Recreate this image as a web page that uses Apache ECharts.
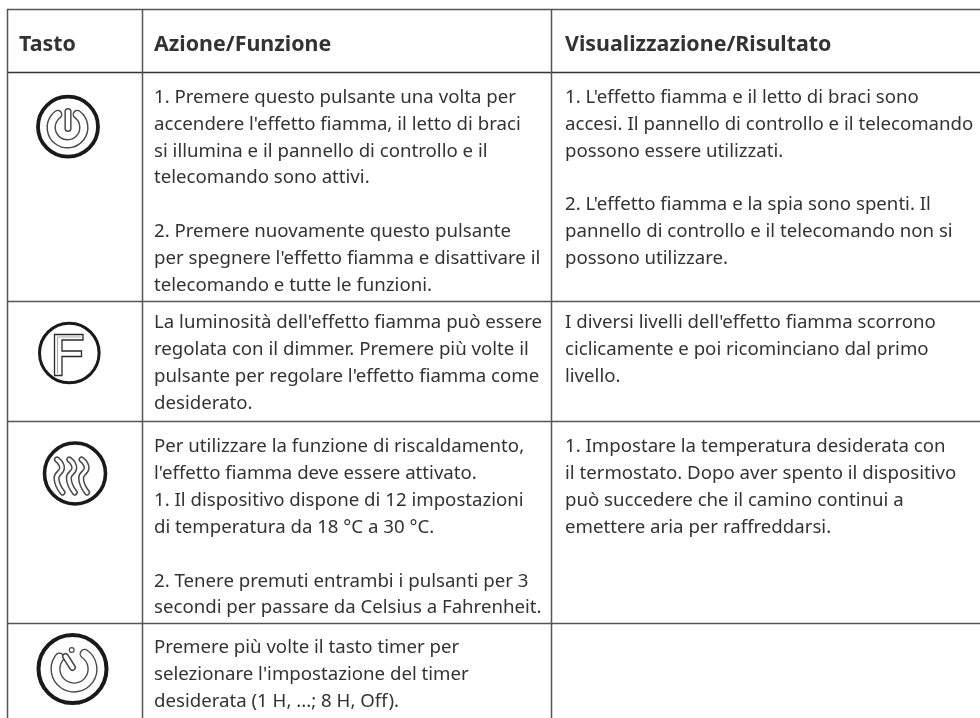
<!DOCTYPE html>
<html>
<head>
<meta charset="utf-8">
<title>Tasti</title>
<style>
html, body { margin: 0; padding: 0; background: #fff; }
#chart-panel { width: 980px; height: 718px; }
</style>
<script src="https://cdn.jsdelivr.net/npm/echarts@6/dist/echarts.min.js"></script>
</head>
<body>
<div id="chart-panel"></div>
<script>
// tabella disegnata con i graphic di echarts
var headers = ['Tasto', 'Azione/Funzione', 'Visualizzazione/Risultato'];

var azioni = [
    ['1. Premere questo pulsante una volta per', "accendere l'effetto fiamma, il letto di braci", 'si illumina e il pannello di controllo e il', 'telecomando sono attivi.', '', '2. Premere nuovamente questo pulsante', "per spegnere l'effetto fiamma e disattivare il", 'telecomando e tutte le funzioni.'],
    ["La luminosità dell'effetto fiamma può essere", 'regolata con il dimmer. Premere più volte il', "pulsante per regolare l'effetto fiamma come", 'desiderato.'],
    ['Per utilizzare la funzione di riscaldamento,', "l'effetto fiamma deve essere attivato.", '1. Il dispositivo dispone di 12 impostazioni', 'di temperatura da 18 °C a 30 °C.', '', '2. Tenere premuti entrambi i pulsanti per 3', 'secondi per passare da Celsius a Fahrenheit.'],
    ['Premere più volte il tasto timer per', "selezionare l'impostazione del timer", 'desiderata (1 H, ...; 8 H, Off).']
];

var risultati = [
    ["1. L'effetto fiamma e il letto di braci sono", 'accesi. Il pannello di controllo e il telecomando', 'possono essere utilizzati.', '', "2. L'effetto fiamma e la spia sono spenti. Il", 'pannello di controllo e il telecomando non si', 'possono utilizzare.'],
    ["I diversi livelli dell'effetto fiamma scorrono", 'ciclicamente e poi ricominciano dal primo', 'livello.'],
    ['1. Impostare la temperatura desiderata con', 'il termostato. Dopo aver spento il dispositivo', 'può succedere che il camino continui a', 'emettere aria per raffreddarsi.'],
    []
];

var firstLineY = [97.5, 323, 447, 648];
var lineStep = 26.85;
var colX = [8, 143, 552];
var rowY = [9, 72, 301, 421, 623];
var textX = [19, 154, 565];
var textColor = '#333';
var ruleColor = '#555';
var family = '"Noto Sans", "Open Sans", sans-serif';

var elements = [];

function addLine(x1, y1, x2, y2, color, width) {
    elements.push({
        type: 'line',
        shape: { x1: x1, y1: y1, x2: x2, y2: y2 },
        style: { stroke: color, lineWidth: width }
    });
}

function addText(x, y, text, font) {
    elements.push({
        type: 'text',
        x: x,
        y: y,
        style: { text: text, font: font, fill: textColor, verticalAlign: 'middle' }
    });
}

// linee della griglia
rowY.forEach(function (y, i) {
    addLine(7, y + 0.5, 980, y + 0.5, i === 1 ? '#333' : ruleColor, 1.5);
});
colX.forEach(function (x) {
    addLine(x - 0.5, 9, x - 0.5, 718, ruleColor, 1.5);
});

// testi
headers.forEach(function (h, i) {
    addText(textX[i], 44.5, h, 'bold 21.4px ' + family);
});
[azioni, risultati].forEach(function (col, c) {
    col.forEach(function (lines, r) {
        lines.forEach(function (line, l) {
            if (line) {
                addText(textX[c + 1], firstLineY[r] + l * lineStep, line, '18.65px ' + family);
            }
        });
    });
});

// icone: anello esterno e linee a doppio contorno
function addRing(cx, cy, r, width) {
    elements.push({
        type: 'circle',
        shape: { cx: cx, cy: cy, r: r },
        style: { fill: '#fff', stroke: '#1a1a1a', lineWidth: width }
    });
}

function addArc(cx, cy, r, start, end, color, width) {
    elements.push({
        type: 'arc',
        shape: { cx: cx, cy: cy, r: r, startAngle: start * Math.PI / 180, endAngle: end * Math.PI / 180 },
        style: { stroke: color, lineWidth: width, fill: null, lineCap: 'round' }
    });
}

function addCurve(points, color, width, smooth) {
    elements.push({
        type: 'polyline',
        shape: { points: points, smooth: smooth },
        style: { stroke: color, lineWidth: width, fill: null, lineCap: 'round', lineJoin: 'round' }
    });
}

function addOutlined(draw, outer, inner) {
    draw('#4a4a4a', outer);
    draw('#fff', inner);
}

// accensione
addRing(68, 126.7, 30, 3.8);
addOutlined(function (c, w) { addArc(67.5, 127.5, 16.3, -53, 233, c, w); }, 9.5, 6.6);
addOutlined(function (c, w) { addCurve([[68, 111.5], [68, 128.5]], c, w, 0); }, 7.2, 4.2);

// fiamma F
addRing(69.3, 353, 29.8, 3);
elements.push({
    type: 'polygon',
    shape: { points: [[54.5, 334.5], [83, 334.5], [83, 340], [62, 340], [62, 351], [81.5, 351], [81.5, 356.5], [62, 356.5], [62, 375.5], [54.5, 375.5]] },
    style: { fill: '#fff', stroke: '#2a2a2a', lineWidth: 1.3 }
});
addCurve([[57.5, 373], [57.5, 337], [81, 337]], '#aaa', 1.1, 0);

// riscaldamento
addRing(75, 473.5, 30.5, 3.6);
[0, 12.3, 24.6].forEach(function (dx) {
    addOutlined(function (c, w) {
        addCurve([[57 + dx, 459.5], [62 + dx, 468], [56.5 + dx, 478], [62.5 + dx, 492.5]], c, w, 0.5);
    }, 6.2, 3.2);
});

// timer
addRing(72.5, 669, 34, 4);
addOutlined(function (c, w) { addArc(74, 669, 18.5, -55, 218, c, w); }, 10.2, 7.4);
addOutlined(function (c, w) { addCurve([[65.5, 656.5], [72.5, 667.5]], c, w, 0); }, 7, 4);
elements.push({
    type: 'circle',
    shape: { cx: 71.7, cy: 650, r: 2.4 },
    style: { fill: '#fff', stroke: '#4a4a4a', lineWidth: 1.2 }
});

var myChart = echarts.init(document.getElementById('chart-panel'), null, { renderer: 'canvas' });
myChart.setOption({
    backgroundColor: '#fff',
    animation: false,
    graphic: { elements: elements }
});
</script>
</body>
</html>
